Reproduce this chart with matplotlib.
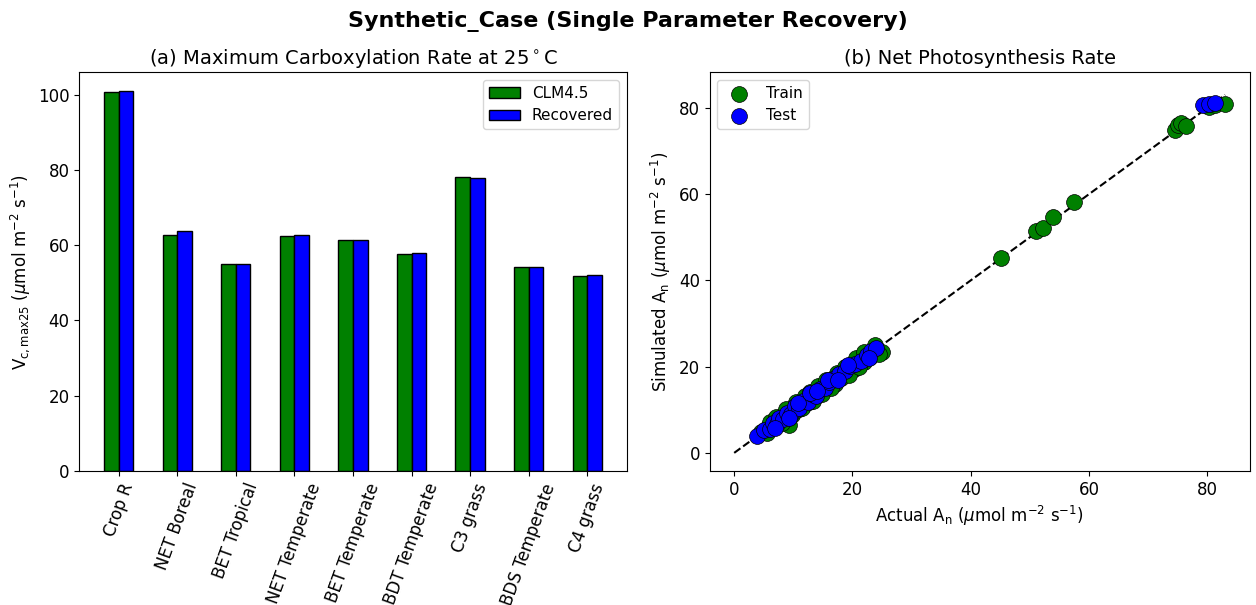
import matplotlib
matplotlib.use("Agg")
import matplotlib.pyplot as plt
import numpy as np

# ---- data ----
pfts = ["Crop R", "NET Boreal", "BET Tropical", "NET Temperate", "BET Temperate",
        "BDT Temperate", "C3 grass", "BDS Temperate", "C4 grass"]
clm45 = [100.7, 62.8, 55.0, 62.5, 61.5, 57.7, 78.1, 54.1, 51.7]
recovered = [101.0, 63.9, 55.0, 62.8, 61.5, 58.0, 77.8, 54.1, 52.0]

train_actual = [4.5, 5.2, 5.8, 6.3, 6.9, 7.4, 7.8, 8.2, 8.6, 9.0, 9.3, 9.7, 10.1, 10.5,
                10.9, 11.3, 11.8, 12.2, 12.6, 13.0, 13.5, 13.9, 14.3, 14.8, 15.2, 15.7,
                16.1, 16.6, 17.0, 17.5, 18.0, 18.5, 19.1, 19.6, 20.2, 20.8, 21.3, 21.9,
                22.4, 23.0, 23.6, 24.2, 25.0,
                6.0, 7.1, 8.8, 10.4, 11.9, 12.9, 14.1, 15.6, 17.3, 18.7, 20.6, 22.0, 23.8,
                5.5, 8.0, 9.8, 11.5, 13.3, 14.9, 16.4, 19.4, 21.1, 24.5,
                45.1, 51.0, 52.2, 53.9, 57.4, 74.6, 75.0, 75.6, 76.4, 80.3, 81.2, 83.0]
train_sim = [4.8, 5.0, 6.1, 5.9, 7.3, 7.0, 8.3, 7.6, 8.9, 8.4, 6.5, 9.9, 9.5, 10.9,
             10.2, 11.6, 11.0, 12.7, 11.8, 13.4, 12.7, 14.3, 13.6, 15.3, 14.5, 16.2,
             15.4, 17.1, 16.0, 18.0, 17.3, 19.1, 18.6, 20.3, 19.4, 21.2, 21.9, 21.0,
             23.1, 22.3, 24.1, 23.3, 23.5,
             7.2, 8.4, 10.2, 11.8, 13.2, 14.2, 15.5, 16.9, 18.6, 20.0, 21.9, 23.3, 24.9,
             4.6, 6.9, 8.7, 10.3, 12.0, 13.6, 15.1, 18.1, 19.9, 23.0,
             45.1, 51.4, 52.1, 54.7, 58.2, 74.9, 76.0, 76.4, 75.8, 80.2, 80.6, 80.9]
test_actual = [3.9, 5.0, 6.0, 6.6, 7.2, 7.6, 8.3, 8.9, 9.6, 10.3, 11.0, 11.6, 12.4, 13.2,
               13.8, 14.5, 15.3, 16.0, 17.0, 17.8, 18.8, 19.6, 20.5, 21.5, 22.4, 23.2,
               23.9, 6.9, 9.2, 10.8, 12.8, 14.0, 15.8, 17.5, 19.2, 22.8,
               79.3, 80.2, 81.3]
test_sim = [3.9, 5.3, 5.6, 6.9, 6.8, 8.0, 7.9, 9.3, 9.1, 10.8, 10.5, 12.0, 11.9, 13.6,
            13.2, 14.9, 15.0, 16.5, 17.3, 18.2, 19.0, 20.1, 20.7, 21.2, 22.8, 23.6,
            24.2, 5.8, 8.2, 11.6, 13.9, 14.4, 17.0, 16.9, 20.4, 22.1,
            80.6, 80.9, 81.0]

fig = plt.figure(figsize=(12.56, 6.05), dpi=100)
fig.suptitle("Synthetic_Case (Single Parameter Recovery)", fontsize=16,
             fontweight="bold", y=0.982)

# ---- (a) bar chart ----
ax1 = fig.add_axes([0.063, 0.2215, 0.436, 0.6595])
x = np.arange(len(pfts))
w = 0.25
ax1.bar(x - w / 2, clm45, w, color="green", edgecolor="black", label="CLM4.5")
ax1.bar(x + w / 2, recovered, w, color="blue", edgecolor="black", label="Recovered")
ax1.set_xticks(x)
ax1.set_xticklabels(pfts, rotation=70, fontsize=12)
ax1.tick_params(axis="y", labelsize=12)
ax1.set_ylabel(r"V$_{\rm c,max25}$ ($\mu$mol m$^{-2}$ s$^{-1}$)", fontsize=12)
ax1.set_title(r"(a) Maximum Carboxylation Rate at 25$^\circ$C", fontsize=14)
ax1.legend(loc="upper right", fontsize=11)

# ---- (b) scatter ----
ax2 = fig.add_axes([0.565, 0.2215, 0.430, 0.6595])
mx = max(max(train_actual), max(test_actual))
ax2.plot([0, mx], [0, mx], "k--", lw=1.5)
ax2.scatter(train_actual, train_sim, s=130, color="green", edgecolor="black",
            linewidth=0.5, label="Train", zorder=3)
ax2.scatter(test_actual, test_sim, s=130, color="blue", edgecolor="black",
            linewidth=0.5, label="Test", zorder=4)
ax2.set_xticks([0, 20, 40, 60, 80])
ax2.set_yticks([0, 20, 40, 60, 80])
ax2.set_ylim(-4.2, 88.3)
ax2.tick_params(labelsize=12)
ax2.set_xlabel(r"Actual A$_{\rm n}$ ($\mu$mol m$^{-2}$ s$^{-1}$)", fontsize=12)
ax2.set_ylabel(r"Simulated A$_{\rm n}$ ($\mu$mol m$^{-2}$ s$^{-1}$)", fontsize=12)
ax2.set_title("(b) Net Photosynthesis Rate", fontsize=14)
ax2.legend(loc="upper left", fontsize=11)

fig.savefig("out.png", dpi=100)
